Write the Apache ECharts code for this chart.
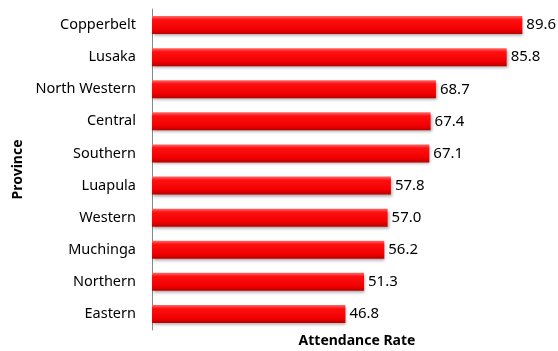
<!DOCTYPE html>
<html><head><meta charset="utf-8">
<script src="https://cdn.jsdelivr.net/npm/echarts@6/dist/echarts.min.js"></script>
<style>html,body{margin:0;padding:0;background:#fff}#c{width:558px;height:351px}</style>
</head><body><div id="c"></div>
<script>
const categories = ["Copperbelt","Lusaka","North Western","Central","Southern","Luapula","Western","Muchinga","Northern","Eastern"];
const values = [89.6,85.8,68.7,67.4,67.1,57.8,57.0,56.2,51.3,46.8];
const xAxisTitle = "Attendance Rate";
const yAxisTitle = "Province";

const chart = echarts.init(document.getElementById('c'), null, {renderer:'canvas'});
const font = "'Noto Sans', 'Open Sans', sans-serif";
chart.setOption({
  animation:false,
  grid:{left:152, right:34, top:9, bottom:21, containLabel:false, outerBoundsMode:'none'},
  xAxis:{type:'value', min:0, max:90, show:true,
    axisLine:{show:false}, axisTick:{show:false}, axisLabel:{show:false}, splitLine:{show:false},
    name:xAxisTitle, nameLocation:'middle', nameGap:4,
    nameTextStyle:{fontFamily:font, fontWeight:'bold', fontSize:14, color:'#000', padding:[0,0,0,38]}
  },
  yAxis:{type:'category', data:categories, inverse:true,
    axisLine:{show:true, lineStyle:{color:'#888', width:1}},
    axisTick:{show:false},
    axisLabel:{fontFamily:font, fontSize:14.5, color:'#000', margin:16},
    name:yAxisTitle, nameLocation:'middle', nameGap:126, nameRotate:90,
    nameTextStyle:{fontFamily:font, fontWeight:'bold', fontSize:14, color:'#000'}
  },
  series:[{type:'bar', data:values, barWidth:18,
    itemStyle:{
      color:new echarts.graphic.LinearGradient(0,0,0,1,[
        {offset:0,color:'#ff6a6a'},{offset:0.2,color:'#ff1010'},
        {offset:0.75,color:'#f00000'},{offset:1,color:'#b80000'}]),
      shadowColor:'rgba(0,0,0,0.35)', shadowBlur:3, shadowOffsetX:1, shadowOffsetY:2
    },
    label:{show:true, position:'right', distance:4, fontFamily:font, fontSize:15, color:'#000',
      formatter:p=>p.value.toFixed(1)}
  }]
});
</script></body></html>
